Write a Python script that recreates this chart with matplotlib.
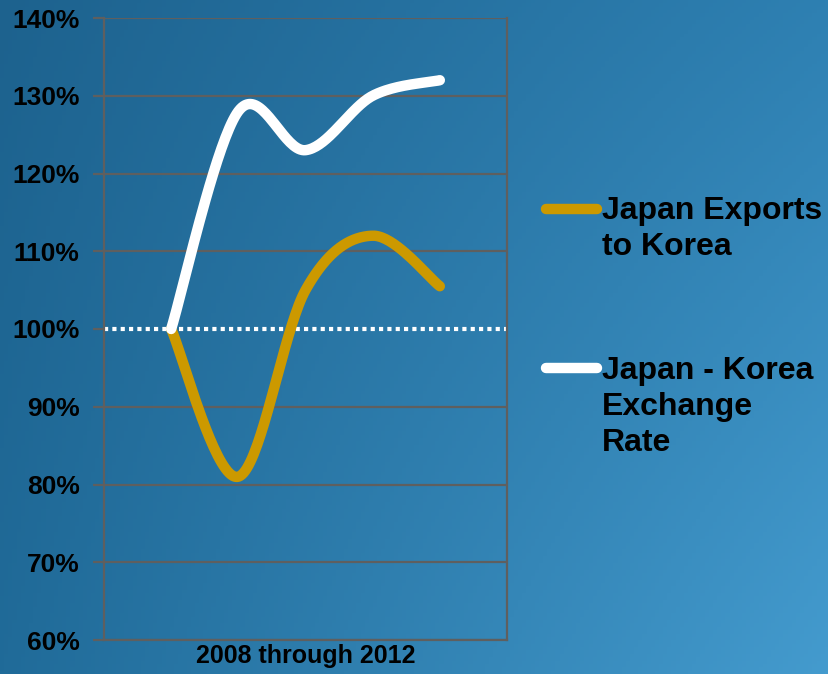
"""Japan exports to Korea vs exchange rate, 2008-2012"""
import numpy as np
import matplotlib.pyplot as plt
from matplotlib.lines import Line2D

# Dados (indice, 2008 = 100%)
years = [2008, 2009, 2010, 2011, 2012]
exports = [100, 81, 105, 112, 105.5]
exchange = [100, 128, 123, 130, 132]
yticks = [60, 70, 80, 90, 100, 110, 120, 130, 140]
series_labels = ['Japan Exports\nto Korea', 'Japan - Korea\nExchange\nRate']
series_colors = ['#cc9900', 'white']


def smooth(xs, ys, n=40):
    # spline Catmull-Rom passando pelos pontos (como a suavizacao do Excel)
    p = np.column_stack([xs, ys]).astype(float)
    p = np.vstack([p[0], p, p[-1]])
    out = []
    for i in range(1, len(p) - 2):
        p0, p1, p2, p3 = p[i - 1], p[i], p[i + 1], p[i + 2]
        t = np.linspace(0, 1, n)[:, None]
        seg = 0.5 * ((2 * p1) + (-p0 + p2) * t
                     + (2 * p0 - 5 * p1 + 4 * p2 - p3) * t ** 2
                     + (-p0 + 3 * p1 - 3 * p2 + p3) * t ** 3)
        out.append(seg)
    out = np.vstack(out)
    return out[:, 0], out[:, 1]


plt.rcParams['font.family'] = ['Liberation Sans', 'DejaVu Sans']
W, H = 829, 674
fig = plt.figure(figsize=(W / 100, H / 100), dpi=100)

# Fundo em gradiente azul
bg = fig.add_axes([0, 0, 1, 1], zorder=-10)
bg.axis('off')
c_tl = np.array([0x1d, 0x62, 0x8e]) / 255
c_tr = np.array([0x2e, 0x80, 0xb2]) / 255
c_bl = np.array([0x20, 0x6b, 0x99]) / 255
c_br = np.array([0x44, 0x9b, 0xce]) / 255
u = np.linspace(0, 1, 200)[None, :, None]
v = np.linspace(0, 1, 200)[:, None, None]
img = (c_tl * (1 - u) * (1 - v) + c_tr * u * (1 - v)
       + c_bl * (1 - u) * v + c_br * u * v)
bg.imshow(img, aspect='auto', extent=[0, 1, 0, 1])

ax = fig.add_axes([104 / W, 1 - 640 / H, 403 / W, 622 / H])
ax.patch.set_alpha(0)

x = np.arange(1, len(years) + 1)
grid_color = '#5f5f5f'
for yv in yticks:
    if yv != 100:
        ax.axhline(yv, color=grid_color, lw=1.6, zorder=1)
ax.axhline(100, color='white', lw=3, ls=(0, (1, 1)), zorder=2)

for vals, col, z in [(exports, series_colors[0], 3),
                     (exchange, series_colors[1], 4)]:
    sx, sy = smooth(x, vals)
    ax.plot(sx, sy, color=col, lw=7.5, solid_capstyle='round', zorder=z)

ax.set_xlim(0, 6)
ax.set_ylim(60, 140)
ax.set_yticks(yticks)
ax.set_yticklabels([f'{t}%' for t in yticks], fontsize=19, fontweight='bold')
ax.set_xticks([])
ax.tick_params(axis='y', length=8, width=1.6, color=grid_color, pad=9.5)
ax.spines['top'].set_visible(False)
for s in ['left', 'right', 'bottom']:
    ax.spines[s].set_color(grid_color)
    ax.spines[s].set_linewidth(1.6)
ax.set_xlabel('2008 through 2012', fontsize=18, fontweight='bold', labelpad=3)

# Legenda desenhada a mao (marcador alinhado com a primeira linha do texto)
for lab, col, ypix, ytop in zip(series_labels, series_colors,
                                [209, 368], [196, 356]):
    yf = 1 - ypix / H
    fig.add_artist(Line2D([546 / W, 597 / W], [yf, yf], color=col, lw=7.5,
                          solid_capstyle='round'))
    fig.text(602 / W, 1 - ytop / H, lab, fontsize=23, fontweight='bold',
             ha='left', va='top', linespacing=1.27)

fig.savefig('out.png', dpi=100)
